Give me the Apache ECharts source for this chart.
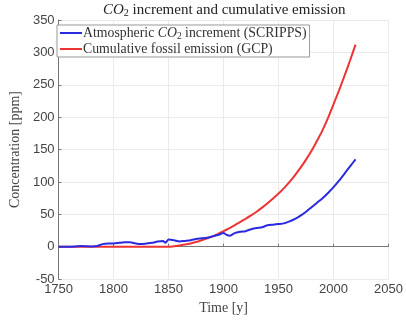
<!DOCTYPE html>
<html>
<head>
<meta charset="utf-8">
<script src="https://cdn.jsdelivr.net/npm/echarts@6/dist/echarts.min.js"></script>
<style>html,body{margin:0;padding:0;background:#fff}#c{width:406px;height:320px}</style>
</head>
<body>
<div id="c"></div>
<script>
// Atmospheric CO2 increment (SCRIPPS), ppm
var blueYears = [1750,1760,1770,1780,1785,1790,1795,1800,1805,1810,1815,1820,1825,1830,1835,1840,1845,1847,1850,1855,1860,1865,1870,1875,1880,1885,1890,1895,1900,1903,1906,1910,1915,1920,1925,1930,1935,1940,1945,1950,1955,1960,1965,1970,1975,1980,1985,1990,1995,2000,2005,2010,2015,2020];
var blueVals  = [0,0,1,0.5,1,4,5,5,6,7,7,5,4,5,6,8,9,6,11,10,8,9,10,12,13,14,16,18,21,18,17,21,23,24,27,29,30,33,34,35,36,39,43,48,54,61,68,75,83,92,102,113,124,135];
// Cumulative fossil emission (GCP), ppm
var redYears = [1750,1800,1850,1855,1860,1865,1870,1875,1880,1885,1890,1895,1900,1905,1910,1915,1920,1925,1930,1935,1940,1945,1950,1955,1960,1965,1970,1975,1980,1985,1990,1995,2000,2005,2010,2015,2020];
var redVals  = [0,0,0,0.8,2,3.3,5,7.3,10,12.8,16,19.8,24,28.4,33,38,43,48.3,54,60.3,67,74.3,82,90.5,100,110.5,122,134.5,148,163.5,180,199,220,241.5,264,287.5,312];
var xTicks = [1750,1800,1850,1900,1950,2000,2050];
var yTicks = [-50,0,50,100,150,200,250,300,350];

function pairs(xs, ys){ return xs.map(function(x,i){ return [x, ys[i]]; }); }

var serif = '"Liberation Serif", "DejaVu Serif", serif';
var sans = '"Liberation Sans", Arial, sans-serif';
var chart = echarts.init(document.getElementById('c'), null, {renderer:'canvas'});
chart.setOption({
  animation: false,
  backgroundColor: '#fff',
  title: {
    text: '{i|CO}{s|2}{n| increment and cumulative emission}',
    left: 98, top: -3,
    textStyle: {
      fontWeight: 'normal',
      rich: {
        i: {fontFamily: serif, fontStyle: 'italic', fontWeight: 'normal', fontSize: 15, color: '#222'},
        s: {fontFamily: serif, fontWeight: 'normal', fontSize: 10, color: '#222', padding: [6,0,0,0]},
        n: {fontFamily: serif, fontWeight: 'normal', fontSize: 15, color: '#222'}
      }
    }
  },
  legend: {
    left: 57, top: 25, orient: 'vertical',
    backgroundColor: '#fff', borderColor: '#999', borderWidth: 1,
    padding: [1, 3, 1, 3], itemGap: 1,
    itemWidth: 22, itemHeight: 2, icon: 'rect',
    data: ['a', 'b'],
    formatter: function(n){
      return n === 'a' ? '{n|Atmospheric }{i|CO}{s|2}{n| increment (SCRIPPS)}' : '{n|Cumulative fossil emission (GCP)}';
    },
    textStyle: {
      padding: [0,0,0,-4],
      rich: {
        i: {fontFamily: serif, fontStyle: 'italic', fontSize: 13.8, color: '#333'},
        s: {fontFamily: serif, fontSize: 9.5, color: '#333', padding: [6,0,0,0]},
        n: {fontFamily: serif, fontSize: 13.8, color: '#333'}
      }
    }
  },
  grid: {left: 52, right: 13, top: 20, bottom: 39},
  xAxis: {
    type: 'value', min: 1750, max: 2050, interval: 50,
    name: 'Time [y]', nameLocation: 'middle', nameGap: 21,
    nameTextStyle: {fontFamily: serif, fontSize: 14, color: '#444'},
    axisLine: {lineStyle: {color: '#777', width: 1}},
    axisTick: {inside: true, length: 3, lineStyle: {color: '#777'}},
    axisLabel: {fontFamily: sans, fontSize: 13, color: '#444', margin: 4,
                formatter: function(v){ return String(v); }},
    splitLine: {show: true, lineStyle: {color: '#ebebeb', width: 1}}
  },
  yAxis: {
    type: 'value', min: -50, max: 350, interval: 50,
    name: 'Concentration [ppm]', nameLocation: 'middle', nameGap: 34,
    nameTextStyle: {fontFamily: serif, fontSize: 14, color: '#444'},
    axisLine: {show: true, lineStyle: {color: '#777', width: 1}},
    axisTick: {show: true, inside: true, length: 3, lineStyle: {color: '#777'}},
    axisLabel: {fontFamily: sans, fontSize: 13, color: '#444', margin: 4,
                formatter: function(v){ return String(v); }},
    splitLine: {show: true, lineStyle: {color: '#ebebeb', width: 1}}
  },
  series: [
    {name: 'a', type: 'line', data: pairs(blueYears, blueVals), showSymbol: false, smooth: 0.2,
     lineStyle: {color: '#2a2ae0', width: 2}, itemStyle: {color: '#2a2ae0'}, z: 3},
    {name: 'b', type: 'line', data: pairs(redYears, redVals), showSymbol: false, smooth: 0.2,
     lineStyle: {color: '#ee3333', width: 2}, itemStyle: {color: '#ee3333'}, z: 2}
  ]
});
</script>
</body>
</html>
